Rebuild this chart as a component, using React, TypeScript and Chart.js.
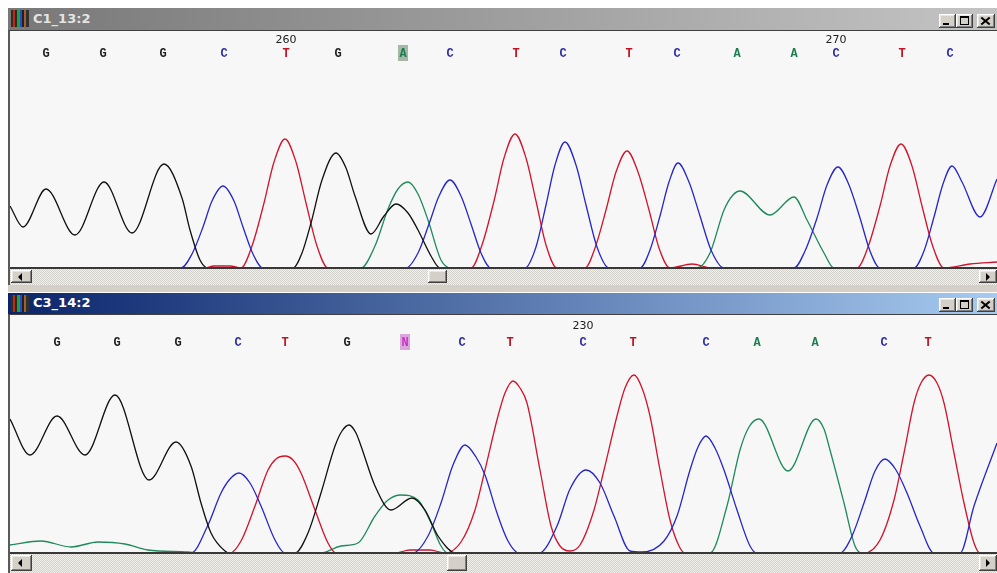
import React, { useEffect, useRef } from 'react';
import { Chart, registerables } from 'chart.js';

Chart.register(...registerables);

type Pt = [number, number];

// ---------- TOP panel (C1_13:2) : [scan, signal] ----------
const TOP_G: Pt[] = [[10,62],[23,41],[46,79],[75,33],[104,86],[132,35],[164,104],[182,70],[190,38],[200,8],[208,0],[293,0],[302,15],[311,45],[322,88],[336,115],[346,100],[355,72],[371,34],[384,52],[396,64],[408,55],[418,38],[431,12],[440,0],[997,0]];
const TOP_C: Pt[] = [[10,0],[181,0],[192,14],[203,41],[212,67],[223,82],[234,67],[243,41],[253,14],[263,0],[406,0],[418,15],[429,44],[439,72],[450,88],[461,72],[471,44],[481,15],[491,0],[525,0],[536,21],[546,63],[555,103],[565,126],[576,103],[586,63],[597,21],[609,0],[640,0],[650,18],[660,52],[669,86],[678,105],[689,86],[700,52],[711,18],[724,0],[794,0],[805,17],[817,50],[827,83],[838,101],[849,83],[860,50],[870,17],[880,0],[914,0],[924,17],[934,51],[943,84],[952,102],[962,86],[980,51],[997,89]];
const TOP_T: Pt[] = [[10,0],[204,0],[214,2],[230,2],[241,0],[252,22],[264,65],[274,106],[285,129],[296,106],[306,65],[317,22],[328,0],[471,0],[482,23],[494,67],[504,110],[515,134],[526,110],[536,67],[546,23],[557,0],[585,0],[595,20],[606,58],[616,96],[627,117],[638,96],[649,58],[659,20],[670,0],[692,4],[712,0],[857,0],[868,21],[880,62],[890,102],[901,124],[912,102],[922,62],[933,21],[944,0],[970,4],[997,6]];
const TOP_A: Pt[] = [[10,0],[361,0],[375,22],[388,59],[398,79],[408,86],[418,74],[428,48],[441,8],[451,0],[697,0],[710,15],[724,58],[733,73],[740,77],[770,53],[794,71],[807,48],[824,15],[834,0],[997,0]];

const TOP_BASES = ['G','G','G','C','T','G','A','C','T','C','T','C','A','A','C','T','C'];
const TOP_BASE_POS = [46,103,163,224,286,338,403,450,516,563,629,677,737,794,836,902,950];
const TOP_FIRST_BASE_NO = 256;
const TOP_HIGHLIGHT = 6;

// ---------- BOTTOM panel (C3_14:2) ----------
const BOT_G: Pt[] = [[10,134],[30,98],[57,137],[85,98],[115,158],[149,73],[176,111],[191,87],[201,50],[211,20],[225,2],[230,0],[295,0],[308,20],[321,60],[335,107],[342,122],[349,128],[356,120],[361,107],[375,67],[391,43],[412,55],[425,43],[438,17],[456,0],[997,0]];
const BOT_C: Pt[] = [[10,0],[191,0],[208,28],[221,60],[230,74],[239,80],[250,70],[261,47],[275,13],[285,0],[413,0],[428,17],[441,50],[453,88],[465,108],[476,96],[485,78],[497,40],[508,12],[519,0],[539,0],[557,27],[570,64],[586,83],[600,70],[614,37],[630,2],[642,1],[664,12],[677,37],[690,83],[698,106],[706,117],[715,105],[724,83],[737,43],[750,7],[757,0],[840,0],[852,17],[864,50],[875,82],[885,94],[896,83],[907,60],[920,27],[934,0],[960,0],[974,47],[997,110]];
const BOT_T: Pt[] = [[10,0],[230,0],[241,12],[255,47],[268,83],[276,94],[285,97],[293,93],[301,80],[315,43],[328,10],[336,0],[395,0],[410,3],[430,3],[445,0],[461,11],[475,43],[485,83],[498,137],[505,160],[513,172],[520,165],[527,150],[540,83],[551,27],[560,7],[570,2],[580,8],[594,43],[604,83],[617,137],[625,165],[634,178],[642,165],[650,137],[660,83],[670,33],[679,7],[685,0],[864,0],[880,13],[894,53],[904,100],[914,150],[921,170],[929,178],[937,170],[944,150],[954,100],[964,50],[974,10],[980,0],[997,0]];
const BOT_A: Pt[] = [[10,8],[41,12],[71,6],[98,11],[125,9],[148,3],[188,1],[198,0],[321,0],[341,7],[358,10],[375,37],[388,53],[401,58],[418,53],[431,30],[441,7],[448,0],[710,0],[727,47],[740,103],[749,126],[759,134],[788,82],[816,134],[824,124],[830,103],[844,50],[855,7],[862,0],[997,0]];

const BOT_BASES = ['G','G','G','C','T','G','N','C','T','C','T','C','A','A','C','T'];
const BOT_BASE_POS = [57,117,178,238,285,347,405,462,510,583,633,706,757,815,884,928];
const BOT_FIRST_BASE_NO = 221;
const BOT_HIGHLIGHT = 6;

const TRACE_COLORS: Record<string, string> = { G: '#101010', C: '#2626c8', T: '#d0142c', A: '#1f8a5a' };
const BASE_COLORS: Record<string, string> = { G: '#222222', C: '#2e2ea6', T: '#c01224', A: '#1a7d4e', N: '#cc30cc' };
const HIGHLIGHT_BG: Record<string, string> = { A: '#a6b7a8', N: '#dba6db' };

function basePlugin(bases: string[], pos: number[], firstNo: number, hl: number, letterY: number, numY: number) {
  return {
    id: 'baseCalls',
    afterDatasetsDraw(chart: any) {
      const ctx = chart.ctx;
      const xs = chart.scales.x;
      ctx.save();
      ctx.textAlign = 'center';
      ctx.textBaseline = 'middle';
      bases.forEach((b, i) => {
        const px = Math.round(xs.getPixelForValue(pos[i]));
        if (i === hl) {
          ctx.fillStyle = HIGHLIGHT_BG[b] || '#ccc';
          ctx.fillRect(px - 5, letterY - 8, 10, 16);
        }
        ctx.font = 'bold 12px "Liberation Mono", monospace';
        ctx.fillStyle = BASE_COLORS[b] || '#000';
        ctx.fillText(b, px, letterY + 1);
        const no = firstNo + i;
        if (no % 10 === 0) {
          ctx.font = '11px "DejaVu Sans", sans-serif';
          ctx.fillStyle = '#202020';
          ctx.fillText(String(no), px, numY);
        }
      });
      ctx.restore();
    },
  };
}

function makeChart(canvas: HTMLCanvasElement, traces: [string, Pt[]][], ymax: number, plugin: any) {
  return new Chart(canvas, {
    type: 'line',
    data: {
      datasets: traces.map(([k, pts]) => ({
        label: k,
        data: pts.map(([x, y]) => ({ x, y })),
        borderColor: TRACE_COLORS[k],
        borderWidth: 1.3,
        pointRadius: 0,
        fill: false,
        cubicInterpolationMode: 'monotone' as const,
      })),
    },
    options: {
      animation: false,
      responsive: false,
      maintainAspectRatio: false,
      events: [],
      layout: { padding: 0 },
      plugins: { legend: { display: false }, tooltip: { enabled: false } },
      scales: {
        x: { type: 'linear', display: false, min: 10, max: 997 },
        y: { display: false, min: 0, max: ymax },
      },
    },
    plugins: [plugin],
  } as any);
}

const bevel: React.CSSProperties = {
  position: 'absolute',
  background: '#d4d0c8',
  boxSizing: 'border-box',
  boxShadow: 'inset -1px -1px #404040, inset 1px 1px #ffffff, inset -2px -2px #808080, inset 2px 2px #e8e6e0',
};

function TitleButtons({ top }: { top: number }) {
  return (
    <>
      <div style={{ ...bevel, left: 939, top, width: 17, height: 14 }}>
        <div style={{ position: 'absolute', left: 4, top: 9, width: 6, height: 2, background: '#000' }} />
      </div>
      <div style={{ ...bevel, left: 956, top, width: 17, height: 14 }}>
        <div style={{ position: 'absolute', left: 4, top: 2, width: 9, height: 9, boxSizing: 'border-box', border: '1px solid #000', borderTop: '2px solid #000' }} />
      </div>
      <div style={{ ...bevel, left: 977, top, width: 18, height: 14 }}>
        <div style={{ position: 'absolute', left: 3, top: 6, width: 11, height: 2, background: '#000', transform: 'rotate(40deg)' }} />
        <div style={{ position: 'absolute', left: 3, top: 6, width: 11, height: 2, background: '#000', transform: 'rotate(-40deg)' }} />
      </div>
    </>
  );
}

function Icon({ top }: { top: number }) {
  return (
    <div style={{ position: 'absolute', left: 11, top, width: 18, height: 17,
      background: 'linear-gradient(to right, #3a2a20 0 12%, #c02818 12% 24%, #203020 24% 34%, #20a040 34% 48%, #2848d0 48% 62%, #202020 62% 74%, #a06030 74% 86%, #303030 86%)' }} />
  );
}

function Scrollbar({ top, height, thumb, thumbW }: { top: number; height: number; thumb: number; thumbW: number }) {
  const bh = height - 3;
  return (
    <>
      <div style={{ position: 'absolute', left: 10, top, width: 987, height,
        background: 'repeating-conic-gradient(#d2d0ca 0% 25%, #f2f1ec 0% 50%) 0 0 / 2px 2px' }} />
      <div style={{ ...bevel, left: 11, top: top + 1, width: 21, height: bh }}>
        <div style={{ position: 'absolute', left: 7, top: bh / 2 - 4, width: 0, height: 0, borderTop: '4px solid transparent', borderBottom: '4px solid transparent', borderRight: '4px solid #000' }} />
      </div>
      <div style={{ ...bevel, left: thumb, top: top + 1, width: thumbW, height: bh }} />
      <div style={{ ...bevel, left: 979, top: top + 1, width: 18, height: bh }}>
        <div style={{ position: 'absolute', left: 7, top: bh / 2 - 4, width: 0, height: 0, borderTop: '4px solid transparent', borderBottom: '4px solid transparent', borderLeft: '4px solid #000' }} />
      </div>
    </>
  );
}

export default function App() {
  const topRef = useRef<HTMLCanvasElement>(null);
  const botRef = useRef<HTMLCanvasElement>(null);

  useEffect(() => {
    const c1 = makeChart(topRef.current!, [['G', TOP_G], ['C', TOP_C], ['T', TOP_T], ['A', TOP_A]], 237,
      basePlugin(TOP_BASES, TOP_BASE_POS, TOP_FIRST_BASE_NO, TOP_HIGHLIGHT, 22, 9));
    const c2 = makeChart(botRef.current!, [['G', BOT_G], ['C', BOT_C], ['T', BOT_T], ['A', BOT_A]], 238,
      basePlugin(BOT_BASES, BOT_BASE_POS, BOT_FIRST_BASE_NO, BOT_HIGHLIGHT, 27, 11));
    return () => { c1.destroy(); c2.destroy(); };
  }, []);

  const titleFont: React.CSSProperties = { position: 'absolute', left: 33, font: 'bold 13px "DejaVu Sans", sans-serif', whiteSpace: 'nowrap' };

  return (
    <div style={{ position: 'fixed', left: 0, top: 0, width: 997, height: 573, background: '#ffffff', overflow: 'hidden' }}>
      {/* top window */}
      <div style={{ position: 'absolute', left: 8, top: 8, width: 989, height: 22, background: 'linear-gradient(to right, #787878, #c4c4c4)' }} />
      <Icon top={10} />
      <div style={{ ...titleFont, top: 11, color: '#e4e4e4' }}>C1_13:2</div>
      <TitleButtons top={14} />
      <div style={{ position: 'absolute', left: 8, top: 30, width: 989, height: 255, boxSizing: 'border-box', borderLeft: '2px solid #5a5a5a', borderTop: '1px solid #404040', background: '#f7f7f7' }} />
      <canvas ref={topRef} width={987} height={237} style={{ position: 'absolute', left: 10, top: 31, width: 987, height: 237, background: '#f7f7f7' }} />
      <div style={{ position: 'absolute', left: 10, top: 267, width: 987, height: 2, background: '#383838' }} />
      <Scrollbar top={269} height={16} thumb={428} thumbW={19} />

      {/* gap */}
      <div style={{ position: 'absolute', left: 8, top: 285, width: 989, height: 8, background: '#d4d0c8', borderBottom: '1px solid #ffffff', boxSizing: 'border-box' }} />

      {/* bottom window */}
      <div style={{ position: 'absolute', left: 8, top: 293, width: 989, height: 21, background: 'linear-gradient(to right, #0a246a, #a6caf0)' }} />
      <Icon top={295} />
      <div style={{ ...titleFont, top: 295, color: '#ffffff' }}>C3_14:2</div>
      <TitleButtons top={298} />
      <div style={{ position: 'absolute', left: 8, top: 314, width: 989, height: 259, boxSizing: 'border-box', borderLeft: '2px solid #5a5a5a', borderTop: '1px solid #404040', background: '#f7f7f7' }} />
      <canvas ref={botRef} width={987} height={238} style={{ position: 'absolute', left: 10, top: 315, width: 987, height: 238, background: '#f7f7f7' }} />
      <div style={{ position: 'absolute', left: 10, top: 552, width: 987, height: 2, background: '#383838' }} />
      <Scrollbar top={554} height={19} thumb={447} thumbW={20} />
    </div>
  );
}
